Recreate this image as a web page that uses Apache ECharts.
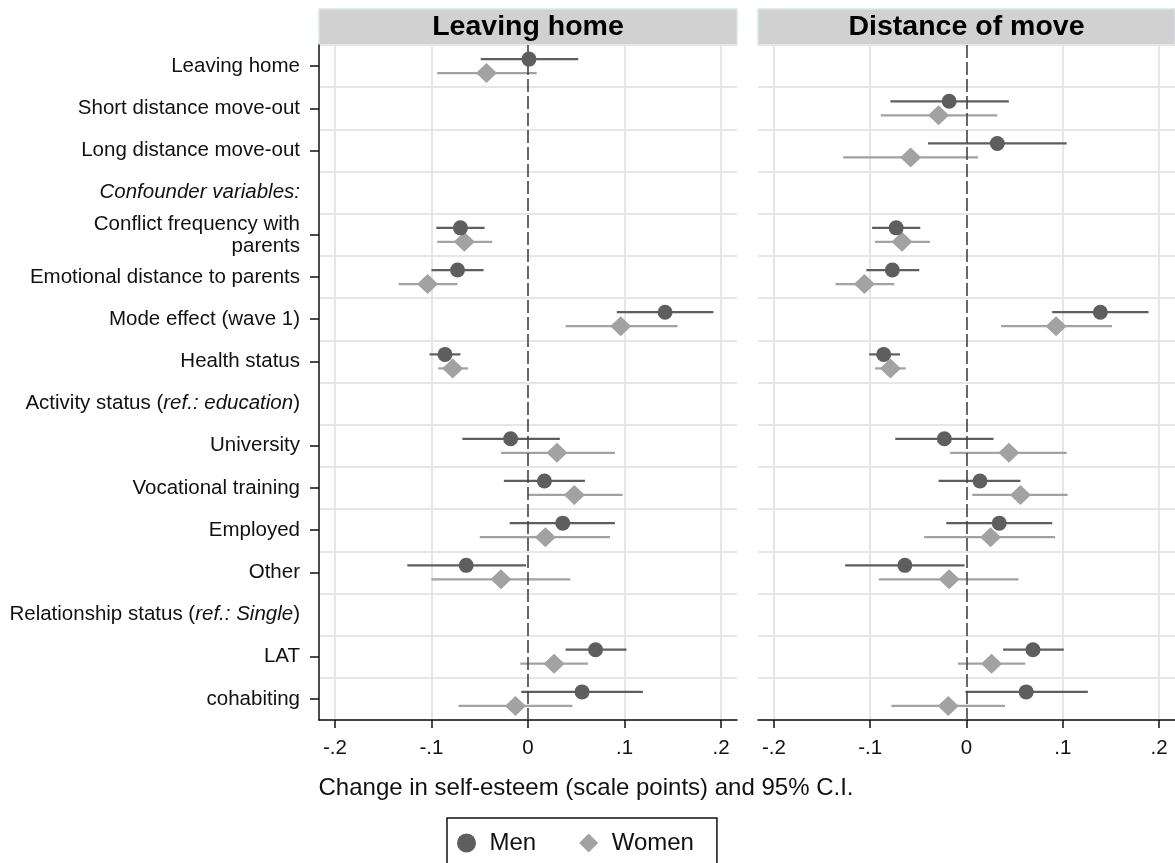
<!DOCTYPE html>
<html>
<head>
<meta charset="utf-8">
<script src="https://cdn.jsdelivr.net/npm/echarts@6/dist/echarts.min.js"></script>
<style>html,body{margin:0;padding:0;background:#fff}#c{width:1175px;height:863px}</style>
</head>
<body>
<div id="c"></div>
<script>
const categories = [
  'Leaving home', 'Short distance move-out', 'Long distance move-out',
  'Confounder variables:', 'Conflict frequency with\nparents',
  'Emotional distance to parents', 'Mode effect (wave 1)', 'Health status',
  'Activity status (ref.: education)', 'University', 'Vocational training',
  'Employed', 'Other', 'Relationship status (ref.: Single)', 'LAT', 'cohabiting'
];
const headerRows = [3, 8, 13];
const panelTitles = ['Leaving home', 'Distance of move'];
const xTicks = [-0.2, -0.1, 0, 0.1, 0.2];
const xTickLabels = ['-.2', '-.1', '0', '.1', '.2'];

// Panel 1: Leaving home
const menEstL   = [0.001, null, null, null, -0.070, -0.073, 0.142, -0.086, null, -0.018, 0.017, 0.036, -0.064, null, 0.070, 0.056];
const menLoL    = [-0.049, null, null, null, -0.095, -0.100, 0.092, -0.102, null, -0.068, -0.025, -0.019, -0.125, null, 0.039, -0.007];
const menHiL    = [0.052, null, null, null, -0.045, -0.046, 0.192, -0.070, null, 0.033, 0.059, 0.090, -0.002, null, 0.102, 0.119];
const womenEstL = [-0.043, null, null, null, -0.066, -0.104, 0.096, -0.078, null, 0.030, 0.048, 0.018, -0.028, null, 0.027, -0.013];
const womenLoL  = [-0.094, null, null, null, -0.094, -0.134, 0.039, -0.093, null, -0.028, 0.000, -0.050, -0.100, null, -0.008, -0.072];
const womenHiL  = [0.009, null, null, null, -0.037, -0.073, 0.155, -0.062, null, 0.090, 0.098, 0.085, 0.044, null, 0.062, 0.046];

// Panel 2: Distance of move
const menEstD   = [null, -0.018, 0.032, null, -0.073, -0.077, 0.139, -0.086, null, -0.023, 0.014, 0.034, -0.064, null, 0.069, 0.062];
const menLoD    = [null, -0.079, -0.040, null, -0.098, -0.104, 0.089, -0.101, null, -0.074, -0.029, -0.021, -0.126, null, 0.038, -0.001];
const menHiD    = [null, 0.044, 0.104, null, -0.048, -0.049, 0.189, -0.069, null, 0.028, 0.056, 0.089, -0.002, null, 0.101, 0.126];
const womenEstD = [null, -0.029, -0.058, null, -0.067, -0.106, 0.093, -0.079, null, 0.044, 0.056, 0.025, -0.018, null, 0.026, -0.019];
const womenLoD  = [null, -0.089, -0.128, null, -0.095, -0.136, 0.036, -0.095, null, -0.017, 0.006, -0.044, -0.091, null, -0.009, -0.078];
const womenHiD  = [null, 0.032, 0.012, null, -0.038, -0.075, 0.151, -0.063, null, 0.104, 0.105, 0.092, 0.054, null, 0.061, 0.040];

const FONT = '"Liberation Sans", Arial, sans-serif';
const MEN_C = '#5e5e5e', WOMEN_C = '#a2a2a2';
const OFF = 0.166;
const DIAMOND = 'path://M0,-10L10,0L0,10L-10,0Z';

function pts(est, shift) {
  const out = [];
  est.forEach((v, i) => { if (v != null) out.push([v, i + shift]); });
  return out;
}
function bars(lo, hi, shift) {
  const out = [];
  lo.forEach((v, i) => { if (v != null) out.push([v, hi[i], i + shift]); });
  return out;
}
function barSeries(gi, lo, hi, shift, color) {
  return {
    type: 'custom', xAxisIndex: gi, yAxisIndex: gi * 2 + 1, silent: true, z: 3,
    data: bars(lo, hi, shift),
    encode: { x: [0, 1], y: 2 },
    renderItem: (params, api) => {
      const y = api.value(2);
      const p1 = api.coord([api.value(0), y]);
      const p2 = api.coord([api.value(1), y]);
      return { type: 'line', shape: { x1: p1[0], y1: p1[1], x2: p2[0], y2: p2[1] },
               style: { stroke: color, lineWidth: 2.2 } };
    }
  };
}
function fmtCat(v) {
  if (/:$/.test(v)) return '{i|' + v + '}';
  const m = v.match(/^(.*)\((ref\.: .*)\)$/);
  if (m) return '{n|' + m[1] + '(}{i|' + m[2] + '}{n|)}';
  return v;
}

const grids = [
  { left: 319, right: 438, top: 45, bottom: 143 },
  { left: 758, right: 0, top: 45, bottom: 143 }
];

const xAxes = grids.map((g, gi) => ({
  type: 'value', gridIndex: gi, min: -0.2165, max: 0.2165,
  axisLine: { show: true, onZero: false, lineStyle: { color: '#111', width: 1.5 } },
  axisTick: { show: true, length: 8, customValues: xTicks, lineStyle: { color: '#111', width: 1.5 } },
  axisLabel: { customValues: xTicks, margin: 18, color: '#111', fontSize: 20.5, fontFamily: FONT,
    formatter: v => { const k = xTicks.findIndex(t => Math.abs(t - v) < 1e-9); return k >= 0 ? xTickLabels[k] : ''; } },
  splitLine: { show: true, lineStyle: { color: ['#e6e6e6', '#e6e6e6', 'rgba(0,0,0,0)', '#e6e6e6', '#e6e6e6'], width: 2 } }
}));

const yAxes = [];
grids.forEach((g, gi) => {
  yAxes.push({
    type: 'category', gridIndex: gi, data: categories, inverse: true,
    axisLine: { show: gi === 0, onZero: false, lineStyle: { color: '#111', width: 1.5 } },
    axisTick: { show: gi === 0, alignWithLabel: true, length: 9,
      interval: (idx) => headerRows.indexOf(idx) < 0, lineStyle: { color: '#111', width: 1.5 } },
    axisLabel: { show: gi === 0, margin: 19, color: '#111', fontSize: 20.5, fontFamily: FONT,
      lineHeight: 22, interval: 0, formatter: fmtCat,
      rich: {
        i: { fontStyle: 'italic', fontSize: 20.5, fontFamily: FONT, color: '#111' },
        n: { fontSize: 20.5, fontFamily: FONT, color: '#111' }
      } },
    splitLine: { show: true, interval: 0, lineStyle: { color: '#e6e6e6', width: 2 } }
  });
  yAxes.push({
    type: 'value', gridIndex: gi, min: -0.5, max: categories.length - 0.5, inverse: true, show: false
  });
});

const panels = [
  [menEstL, menLoL, menHiL, womenEstL, womenLoL, womenHiL],
  [menEstD, menLoD, menHiD, womenEstD, womenLoD, womenHiD]
];
const series = [];
panels.forEach((p, gi) => {
  series.push(barSeries(gi, p[1], p[2], -OFF, MEN_C));
  series.push(barSeries(gi, p[4], p[5], OFF, WOMEN_C));
  series.push({
    name: 'Men', type: 'scatter', xAxisIndex: gi, yAxisIndex: gi * 2 + 1, z: 5,
    symbol: 'circle', symbolSize: 15, itemStyle: { color: MEN_C, opacity: 1 },
    data: pts(p[0], -OFF),
    markLine: { silent: true, symbol: 'none', label: { show: false },
      lineStyle: { color: '#444', type: [13, 4], width: 1.6 },
      data: [{ xAxis: 0 }] }
  });
  series.push({
    name: 'Women', type: 'scatter', xAxisIndex: gi, yAxisIndex: gi * 2 + 1, z: 4,
    symbol: 'diamond', symbolSize: [21, 20], itemStyle: { color: WOMEN_C, opacity: 1 },
    data: pts(p[3], OFF)
  });
});

const graphics = [];
grids.forEach((g, gi) => {
  const x0 = g.left, x1 = 1175 - g.right;
  graphics.push({ type: 'rect', shape: { x: x0, y: 9, width: x1 - x0, height: 36 },
    style: { fill: '#d1d1d1', stroke: '#d9e6ec', lineWidth: 1.5 } });
  graphics.push({ type: 'text', x: (x0 + x1) / 2, y: 27,
    style: { text: panelTitles[gi], fontSize: 28.5, fontWeight: 'bold', fontFamily: FONT,
      fill: '#000', textAlign: 'center', textVerticalAlign: 'middle' } });
});
graphics.push({ type: 'text', x: 586, y: 788,
  style: { text: 'Change in self-esteem (scale points) and 95% C.I.', fontSize: 24, fontFamily: FONT,
    fill: '#111', textAlign: 'center', textVerticalAlign: 'middle' } });

const chart = echarts.init(document.getElementById('c'), null, { renderer: 'canvas' });
chart.setOption({
  backgroundColor: '#fff',
  animation: false,
  grid: grids,
  xAxis: xAxes,
  yAxis: yAxes,
  series: series,
  graphic: graphics,
  legend: {
    data: [{ name: 'Men', icon: 'circle' }, { name: 'Women', icon: DIAMOND }],
    left: 447, top: 818, orient: 'horizontal', symbolKeepAspect: true,
    selectedMode: false, itemWidth: 36, itemHeight: 19, itemGap: 43,
    padding: [13, 23, 24, 10], borderColor: '#111', borderWidth: 1.5,
    textStyle: { fontSize: 24, fontFamily: FONT, color: '#111' }
  }
});
</script>
</body>
</html>
